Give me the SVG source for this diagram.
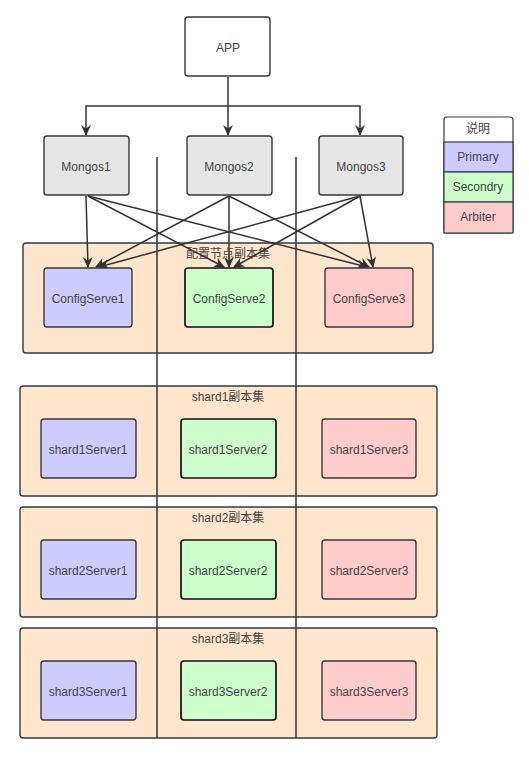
<svg xmlns="http://www.w3.org/2000/svg" width="529" height="757" viewBox="0 0 529 757">
<style>
  text { font-family: "Liberation Sans", Arial, "Noto Sans CJK SC", sans-serif; font-size: 12px; fill: #444; text-anchor: middle; dominant-baseline: central; }
  .box { stroke: #36393d; stroke-width: 1.4; }
  .app { fill: #ffffff; }
  .mongos { fill: #e6e6e6; }
  .pri { fill: #ccccff; }
  .sec { fill: #ccffcc; stroke: #111; stroke-width: 1.7; }
  .arb { fill: #ffcccc; }
  .cont { fill: #ffe6cc; stroke: #36393d; stroke-width: 1.4; }
  .edge { fill: none; stroke: #333; stroke-width: 1.5; }
  .leg { stroke: #36393d; stroke-width: 1.2; }
</style>
<defs>
  <marker id="arr" viewBox="0 0 10 10" refX="9" refY="5" markerWidth="11" markerHeight="11" markerUnits="userSpaceOnUse" orient="auto">
    <path d="M0,0.5 L10,5 L0,9.5 L3,5 z" fill="#333"/>
  </marker>
</defs>
<rect width="529" height="757" fill="#ffffff"/>

<g id="containers">
  <g id="config-set"><rect class="cont" x="23" y="243" width="410" height="110" rx="3"/></g>
  <g id="shard1-set"><rect class="cont" x="20" y="386" width="417" height="110" rx="3"/></g>
  <g id="shard2-set"><rect class="cont" x="20" y="507" width="417" height="110" rx="3"/></g>
  <g id="shard3-set"><rect class="cont" x="20" y="628" width="417" height="110" rx="3"/></g>
</g>

<g id="dividers">
  <line class="edge" x1="157" y1="157" x2="157" y2="738"/>
  <line class="edge" x1="296" y1="157" x2="296" y2="738"/>
</g>

<g id="set-labels">
  <text x="228" y="254">配置节点副本集</text>
  <text x="228" y="397">shard1副本集</text>
  <text x="228" y="518">shard2副本集</text>
  <text x="228" y="639">shard3副本集</text>
</g>

<g id="connectors">
  <path class="edge" d="M228,77 L228,135" marker-end="url(#arr)"/>
  <path class="edge" d="M228,106 L86,106 L86,135" marker-end="url(#arr)"/>
  <path class="edge" d="M228,106 L360,106 L360,135" marker-end="url(#arr)"/>
  <path class="edge" d="M86,196 L88,267" marker-end="url(#arr)"/>
  <path class="edge" d="M229,196 L96,267" marker-end="url(#arr)"/>
  <path class="edge" d="M360,196 L99,267" marker-end="url(#arr)"/>
  <path class="edge" d="M88,196 L224,267" marker-end="url(#arr)"/>
  <path class="edge" d="M229,196 L229,267" marker-end="url(#arr)"/>
  <path class="edge" d="M360,196 L234,267" marker-end="url(#arr)"/>
  <path class="edge" d="M88,196 L367,267" marker-end="url(#arr)"/>
  <path class="edge" d="M229,196 L369,267" marker-end="url(#arr)"/>
  <path class="edge" d="M360,196 L373,267" marker-end="url(#arr)"/>
</g>

<g id="app"><rect class="box app" x="185" y="17" width="85" height="59" rx="3"/><text x="228" y="48">APP</text></g>
<g id="mongos1"><rect class="box mongos" x="44" y="136" width="85" height="59" rx="3"/><text x="86" y="167">Mongos1</text></g>
<g id="mongos2"><rect class="box mongos" x="187" y="136" width="85" height="59" rx="3"/><text x="229" y="167">Mongos2</text></g>
<g id="mongos3"><rect class="box mongos" x="319" y="136" width="84" height="59" rx="3"/><text x="361" y="167">Mongos3</text></g>

<g id="configserve1"><rect class="box pri" x="44" y="268" width="88" height="59" rx="3"/><text x="88" y="299">ConfigServe1</text></g>
<g id="configserve2"><rect class="box sec" x="185" y="268" width="88" height="59" rx="3"/><text x="229" y="299">ConfigServe2</text></g>
<g id="configserve3"><rect class="box arb" x="325" y="268" width="88" height="59" rx="3"/><text x="369" y="299">ConfigServe3</text></g>

<g id="shard1server1"><rect class="box pri" x="41" y="419" width="95" height="59" rx="3"/><text x="88" y="450">shard1Server1</text></g>
<g id="shard1server2"><rect class="box sec" x="181" y="419" width="95" height="59" rx="3"/><text x="228" y="450">shard1Server2</text></g>
<g id="shard1server3"><rect class="box arb" x="322" y="419" width="94" height="59" rx="3"/><text x="369" y="450">shard1Server3</text></g>

<g id="shard2server1"><rect class="box pri" x="41" y="540" width="95" height="59" rx="3"/><text x="88" y="571">shard2Server1</text></g>
<g id="shard2server2"><rect class="box sec" x="181" y="540" width="95" height="59" rx="3"/><text x="228" y="571">shard2Server2</text></g>
<g id="shard2server3"><rect class="box arb" x="322" y="540" width="94" height="59" rx="3"/><text x="369" y="571">shard2Server3</text></g>

<g id="shard3server1"><rect class="box pri" x="41" y="661" width="95" height="59" rx="3"/><text x="88" y="692">shard3Server1</text></g>
<g id="shard3server2"><rect class="box sec" x="181" y="661" width="95" height="59" rx="3"/><text x="228" y="692">shard3Server2</text></g>
<g id="shard3server3"><rect class="box arb" x="322" y="661" width="94" height="59" rx="3"/><text x="369" y="692">shard3Server3</text></g>

<g id="legend">
  <rect class="leg" x="444" y="117" width="69" height="116" rx="3" fill="#ffffff"/>
  <rect class="leg" x="444" y="142" width="69" height="30" fill="#ccccff"/>
  <rect class="leg" x="444" y="172" width="69" height="30" fill="#ccffcc" stroke="#111"/>
  <rect class="leg" x="444" y="202" width="69" height="31" fill="#ffcccc"/>
  <text x="478" y="129">说明</text>
  <text x="478" y="157">Primary</text>
  <text x="478" y="187">Secondry</text>
  <text x="478" y="217">Arbiter</text>
</g>
</svg>
